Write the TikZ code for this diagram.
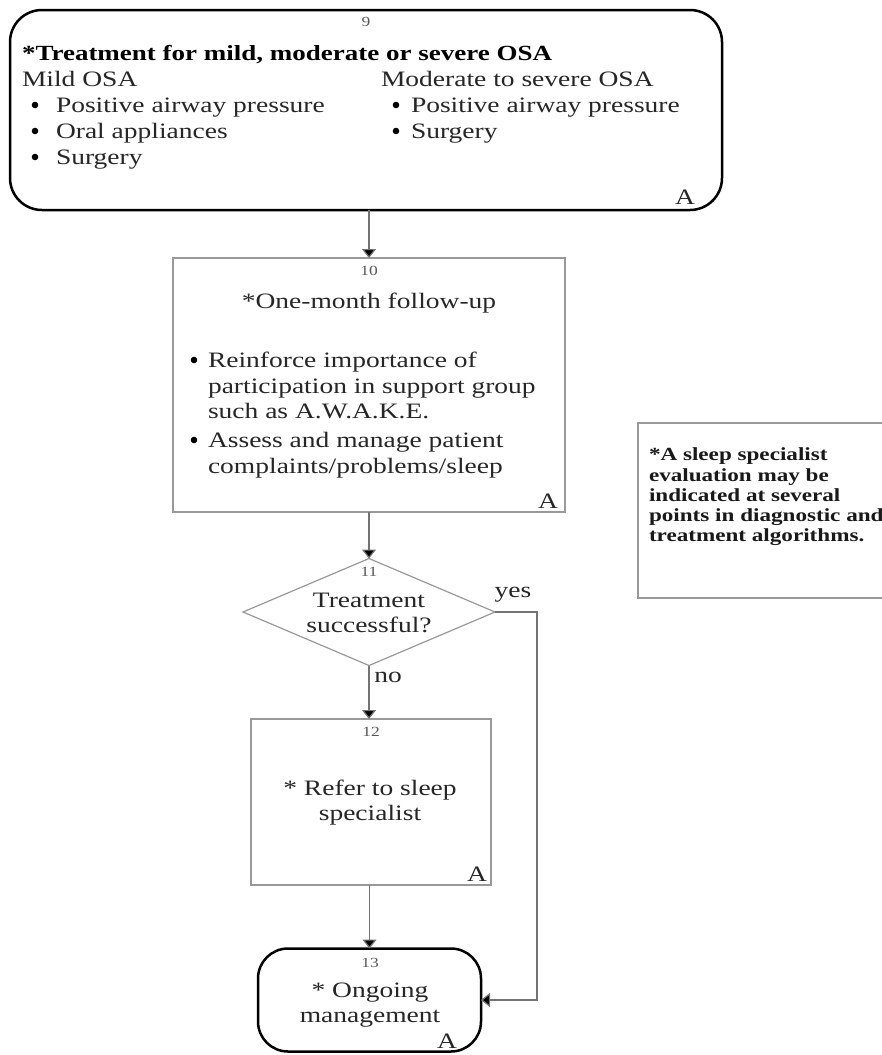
\documentclass[tikz,border=0pt]{standalone}
\usepackage{fontspec}
\setmainfont{Liberation Serif}[FakeStretch=1.25]
\usetikzlibrary{arrows.meta,shapes.geometric}
\begin{document}
\begin{tikzpicture}[x=1pt,y=-1pt,
  txt/.style={inner sep=0pt,outer sep=0pt,text=black!85,font=\fontsize{22}{25}\selectfont},
  btxt/.style={inner sep=0pt,outer sep=0pt,text=black,font=\fontsize{21.6}{25}\selectfont\bfseries},
  ntxt/.style={inner sep=0pt,outer sep=0pt,text=black!90,font=\fontsize{18.5}{20}\selectfont\bfseries},
  num/.style={inner sep=0pt,outer sep=0pt,text=black!65,font=\fontsize{14}{14}\selectfont},
  dot/.style={fill=black},
  blackbox/.style={draw=black,line width=2.5pt,rounded corners=32pt,inner sep=0pt,outer sep=0pt},
  graybox/.style={draw=black!40,line width=1.5pt,inner sep=0pt,outer sep=0pt},
  diam/.style={draw=black!40,line width=1.2pt,diamond,inner sep=0pt,outer sep=0pt},
  conn/.style={draw=black!55,line width=1.2pt,-{Triangle[width=14pt,length=9pt,fill=black]}}
]
\clip (0,0) rectangle (882,1055);
\fill[white] (0,0) rectangle (882,1055);

% Box 9
\node[blackbox,minimum width=712pt,minimum height=200pt] (n9) at (366,110) {};
\node[num] (l9) at (366,22) {9};
\node[btxt,anchor=base west] (t9) at (22,60) {*Treatment for mild, moderate or severe OSA};
\node[txt,anchor=base west] (m1) at (22,86) {Mild OSA};
\fill[dot] (35,105) circle (3.3pt);
\node[txt,anchor=base west] (m1t1) at (56,112) {Positive airway pressure};
\fill[dot] (35,131) circle (3.3pt);
\node[txt,anchor=base west] (m1t2) at (56,138) {Oral appliances};
\fill[dot] (35,157) circle (3.3pt);
\node[txt,anchor=base west] (m1t3) at (56,164) {Surgery};
\node[txt,anchor=base west] (m2) at (381,86) {Moderate to severe OSA};
\fill[dot] (396,105) circle (3.3pt);
\node[txt,anchor=base west] (m2t1) at (411,112) {Positive airway pressure};
\fill[dot] (396,131) circle (3.3pt);
\node[txt,anchor=base west] (m2t2) at (411,138) {Surgery};
\node[txt] (a9) at (685,197) {A};

% Box 10
\node[graybox,minimum width=392pt,minimum height=254pt] (n10) at (369,385) {};
\node[num] (l10) at (369,271) {10};
\node[txt,anchor=base] (t10) at (369,308) {*One-month follow-up};
\fill[dot] (194,360) circle (3.3pt);
\node[txt,anchor=base west] (t10a) at (208,367) {Reinforce importance of};
\node[txt,anchor=base west] (t10b) at (208,393) {participation in support group};
\node[txt,anchor=base west] (t10c) at (208,418) {such as A.W.A.K.E.};
\fill[dot] (194,440) circle (3.3pt);
\node[txt,anchor=base west] (t10d) at (208,447) {Assess and manage patient};
\node[txt,anchor=base west] (t10e) at (208,473) {complaints/problems/sleep};
\node[txt] (a10) at (548,501) {A};

% Diamond 11
\node[diam,minimum width=252pt,minimum height=107pt] (n11) at (369,612) {};
\node[num] (l11) at (369,572) {11};
\node[txt,anchor=base] (t11a) at (369,607) {Treatment};
\node[txt,anchor=base] (t11b) at (369,632) {successful?};
\node[txt] (yes) at (513,595) {yes};
\node[txt] (no) at (388,677) {no};

% Box 12
\node[graybox,minimum width=240pt,minimum height=166pt] (n12) at (371,802) {};
\node[num] (l12) at (371,732) {12};
\node[txt,anchor=base] (t12a) at (370,795) {* Refer to sleep};
\node[txt,anchor=base] (t12b) at (370,820) {specialist};
\node[txt] (a12) at (477,874) {A};

% Box 13
\node[blackbox,minimum width=223pt,minimum height=103pt,rounded corners=30pt] (n13) at (369.5,1000) {};
\node[num] (l13) at (370,963) {13};
\node[txt,anchor=base] (t13a) at (370,997) {* Ongoing};
\node[txt,anchor=base] (t13b) at (370,1022) {management};
\node[txt] (a13) at (447,1041) {A};

% Note box
\node[graybox,minimum width=270pt,minimum height=175pt,anchor=north west] (note) at (638,423) {};
\node[ntxt,anchor=base west] (nt1) at (649,460) {*A sleep specialist};
\node[ntxt,anchor=base west] (nt2) at (649,481) {evaluation may be};
\node[ntxt,anchor=base west] (nt3) at (649,501) {indicated at several};
\node[ntxt,anchor=base west] (nt4) at (649,521) {points in diagnostic and};
\node[ntxt,anchor=base west] (nt5) at (649,541) {treatment algorithms.};

% Connectors
\coordinate (yc) at (537,612);
\draw[conn] (n9.south -| n10.north) -- (n10.north);
\draw[conn] (n10.south) -- (n11.north);
\draw[conn] (n11.south) -- (n12.north -| n11.south);
\draw[conn] (n12.south -| n13.north) -- (n13.north);
\draw[conn] (n11.east) -- (yc) |- (n13.east);
\end{tikzpicture}
\end{document}
